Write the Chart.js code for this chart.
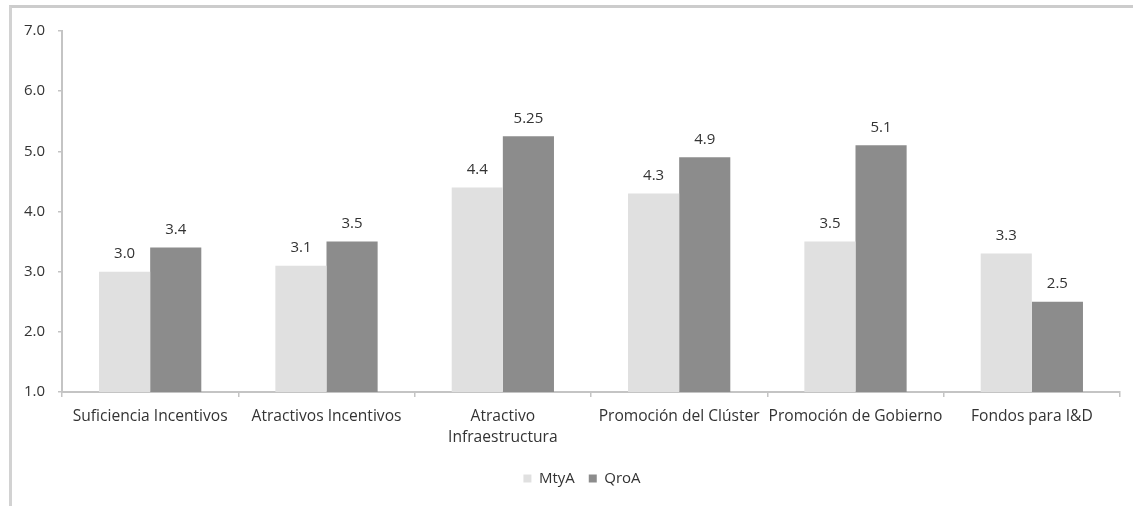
<!DOCTYPE html>
<html>
<head>
<meta charset="utf-8">
<script src="https://cdn.jsdelivr.net/npm/chart.js"></script>
<style>
  html, body { margin: 0; padding: 0; background: #ffffff; }
  #wrap { position: relative; width: 1133px; height: 506px; overflow: hidden; }
  #frame { position: absolute; left: 9px; top: 5px; width: 1200px; height: 600px;
           border-top: 3px solid #cccccc; border-left: 3px solid #d2d2d2; }
  #c { position: absolute; left: 0; top: 0; }
</style>
</head>
<body>
<div id="wrap">
  <div id="frame"></div>
  <canvas id="c" width="1133" height="506"></canvas>
</div>
<script>
// Categories and series
const categories = [
  'Suficiencia Incentivos',
  'Atractivos Incentivos',
  ['Atractivo', 'Infraestructura'],
  'Promoción del Clúster',
  'Promoción de Gobierno',
  'Fondos para I&D'
];
const mtyA = [3.0, 3.1, 4.4, 4.3, 3.5, 3.3];
const qroA = [3.4, 3.5, 5.25, 4.9, 5.1, 2.5];
const yTicks = [1, 2, 3, 4, 5, 6, 7];

const FONT = '"Open Sans", "Noto Sans", sans-serif';
const TEXT = '#333333';
const AXIS = '#c4c4c4';
const LEGEND_CENTER_X = 582;

function fmt(v) {
  const s = String(v);
  return s.includes('.') ? s : v.toFixed(1);
}

// Writes each bar's value above it
const valueLabels = {
  id: 'valueLabels',
  afterDatasetsDraw(chart) {
    const ctx = chart.ctx;
    ctx.save();
    ctx.font = '15px ' + FONT;
    ctx.fillStyle = TEXT;
    ctx.textAlign = 'center';
    ctx.textBaseline = 'middle';
    chart.data.datasets.forEach((ds, i) => {
      chart.getDatasetMeta(i).data.forEach((bar, j) => {
        ctx.fillText(fmt(ds.data[j]), bar.x, bar.y - 18);
      });
    });
    ctx.restore();
  }
};

// Slides the legend row so it sits a little right of the canvas centre
const legendShift = {
  id: 'legendShift',
  afterLayout(chart) {
    const lg = chart.legend;
    if (!lg) return;
    const dx = LEGEND_CENTER_X - (lg.left + lg.right) / 2;
    lg.left += dx;
    lg.right += dx;
  }
};

new Chart(document.getElementById('c'), {
  type: 'bar',
  data: {
    labels: categories,
    datasets: [
      { label: 'MtyA', data: mtyA, backgroundColor: '#e0e0e0' },
      { label: 'QroA', data: qroA, backgroundColor: '#8c8c8c' }
    ]
  },
  options: {
    responsive: false,
    animation: false,
    devicePixelRatio: 1,
    layout: { padding: { top: 31, right: 13, bottom: 10, left: 0 } },
    datasets: { bar: { categoryPercentage: 0.58, barPercentage: 1.0 } },
    plugins: {
      tooltip: { enabled: false },
      legend: {
        position: 'bottom',
        labels: {
          font: { family: FONT, size: 15 },
          color: TEXT,
          boxWidth: 8,
          boxHeight: 8,
          padding: 14,
          useBorderRadius: false
        }
      }
    },
    scales: {
      x: {
        grid: { display: true, drawOnChartArea: false, drawTicks: true, tickLength: 5, color: AXIS, lineWidth: 1.5 },
        border: { display: true, color: AXIS, width: 2 },
        ticks: { font: { family: FONT, size: 15.6, lineHeight: 1.35 }, color: TEXT, padding: 9, maxRotation: 0, autoSkip: false },
        afterFit(scale) { scale.height = 65; }
      },
      y: {
        min: 1,
        max: 7,
        afterBuildTicks(scale) { scale.ticks = yTicks.map(v => ({ value: v })); },
        grid: { display: true, drawOnChartArea: false, drawTicks: true, tickLength: 4, color: AXIS, lineWidth: 1.5 },
        border: { display: true, color: AXIS, width: 2 },
        ticks: { font: { family: FONT, size: 15 }, color: TEXT, padding: 13, callback: v => v.toFixed(1) },
        afterFit(scale) { scale.width = 62; }
      }
    }
  },
  plugins: [valueLabels, legendShift]
});
</script>
</body>
</html>
